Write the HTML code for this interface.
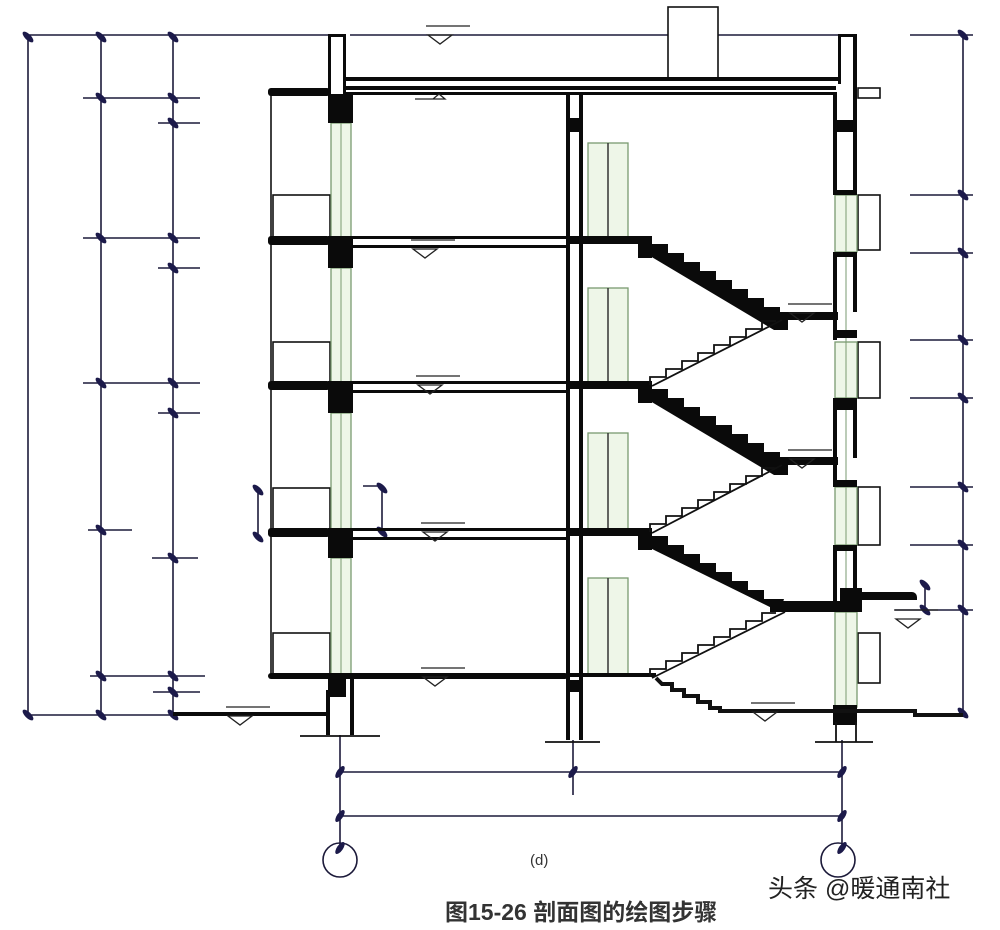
<!DOCTYPE html>
<html><head><meta charset="utf-8"><style>
html,body{margin:0;padding:0;background:#fff;}
svg{display:block}
</style></head><body>
<svg width="1000" height="930" viewBox="0 0 1000 930" xmlns="http://www.w3.org/2000/svg">
<defs>
<g id="tk"><ellipse cx="0" cy="0" rx="7" ry="3" fill="#1c1a4a" transform="rotate(45)"/></g>
<g id="tk2"><ellipse cx="0" cy="0" rx="7" ry="3" fill="#1c1a4a" transform="rotate(-55)"/></g>
<g id="lv"><path d="M-12,0 L12,0 L0,-9 Z" fill="none" stroke="#222" stroke-width="1.3" transform="scale(1,-1)"/><line x1="-14" y1="-9" x2="30" y2="-9" stroke="#222" stroke-width="1.3"/></g>
</defs>
<rect width="1000" height="930" fill="#fff"/>
<g stroke="#1c1a3a" stroke-width="1.6" fill="none">
<line x1="28" y1="35" x2="28" y2="715"/>
<line x1="101" y1="35" x2="101" y2="715"/>
<line x1="173" y1="35" x2="173" y2="715"/>
<line x1="25" y1="35" x2="330" y2="35"/>
<line x1="350" y1="35" x2="668" y2="35"/>
<line x1="718" y1="35" x2="838" y2="35"/>
<line x1="28" y1="715" x2="173" y2="715"/>
<line x1="83" y1="98" x2="200" y2="98"/>
<line x1="158" y1="123" x2="200" y2="123"/>
<line x1="83" y1="238" x2="200" y2="238"/>
<line x1="158" y1="268" x2="200" y2="268"/>
<line x1="83" y1="383" x2="200" y2="383"/>
<line x1="158" y1="413" x2="200" y2="413"/>
<line x1="88" y1="530" x2="132" y2="530"/>
<line x1="152" y1="558" x2="198" y2="558"/>
<line x1="90" y1="676" x2="205" y2="676"/>
<line x1="153" y1="692" x2="200" y2="692"/>
<line x1="963" y1="35" x2="963" y2="715"/>
<line x1="910" y1="35" x2="973" y2="35"/>
<line x1="910" y1="195" x2="973" y2="195"/>
<line x1="910" y1="253" x2="973" y2="253"/>
<line x1="910" y1="340" x2="973" y2="340"/>
<line x1="910" y1="398" x2="973" y2="398"/>
<line x1="910" y1="487" x2="973" y2="487"/>
<line x1="910" y1="545" x2="973" y2="545"/>
<line x1="895" y1="610" x2="973" y2="610"/>
<line x1="258" y1="490" x2="258" y2="537"/>
<line x1="382" y1="488" x2="382" y2="532"/>
<line x1="363" y1="486" x2="382" y2="486"/>
<line x1="925" y1="585" x2="925" y2="610"/>
<line x1="340" y1="735" x2="340" y2="845"/>
<line x1="573" y1="740" x2="573" y2="795"/>
<line x1="842" y1="740" x2="842" y2="845"/>
<line x1="340" y1="772" x2="842" y2="772"/>
<line x1="340" y1="816" x2="842" y2="816"/>
<circle cx="340" cy="860" r="17"/>
<circle cx="838" cy="860" r="17"/>
</g>
<g>
<use href="#tk" x="28" y="37"/><use href="#tk" x="101" y="37"/><use href="#tk" x="173" y="37"/>
<use href="#tk" x="101" y="98"/><use href="#tk" x="173" y="98"/><use href="#tk" x="173" y="123"/>
<use href="#tk" x="101" y="238"/><use href="#tk" x="173" y="238"/><use href="#tk" x="173" y="268"/>
<use href="#tk" x="101" y="383"/><use href="#tk" x="173" y="383"/><use href="#tk" x="173" y="413"/>
<use href="#tk" x="101" y="530"/><use href="#tk" x="173" y="558"/>
<use href="#tk" x="101" y="676"/><use href="#tk" x="173" y="676"/><use href="#tk" x="173" y="692"/>
<use href="#tk" x="28" y="715"/><use href="#tk" x="101" y="715"/><use href="#tk" x="173" y="715"/>
<use href="#tk" x="963" y="35"/><use href="#tk" x="963" y="195"/><use href="#tk" x="963" y="253"/>
<use href="#tk" x="963" y="340"/><use href="#tk" x="963" y="398"/><use href="#tk" x="963" y="487"/>
<use href="#tk" x="963" y="545"/><use href="#tk" x="963" y="610"/><use href="#tk" x="963" y="713"/>
<use href="#tk" x="258" y="490"/><use href="#tk" x="258" y="537"/><use href="#tk" x="382" y="488"/><use href="#tk" x="382" y="532"/>
<use href="#tk" x="925" y="585"/><use href="#tk" x="925" y="610"/>
<use href="#tk2" x="340" y="772"/><use href="#tk2" x="573" y="772"/><use href="#tk2" x="842" y="772"/>
<use href="#tk2" x="340" y="816"/><use href="#tk2" x="842" y="816"/>
<use href="#tk2" x="340" y="848"/><use href="#tk2" x="842" y="848"/>
</g>
<g stroke="#111" stroke-width="1.6" fill="none">
<line x1="271" y1="92" x2="271" y2="677"/>
<rect x="273" y="195" width="57" height="45"/>
<rect x="273" y="342" width="57" height="43"/>
<rect x="273" y="488" width="57" height="44"/>
<rect x="273" y="633" width="57" height="44"/>
<rect x="668" y="7" width="50" height="72"/>
<rect x="858" y="195" width="22" height="55"/>
<rect x="858" y="342" width="22" height="56"/>
<rect x="858" y="487" width="22" height="58"/>
<rect x="858" y="633" width="22" height="50"/>
<rect x="858" y="88" width="22" height="10"/>
</g>
<g fill="#eef6e8" stroke="#7a9a70" stroke-width="1.3">
<rect x="331" y="123" width="20" height="115"/>
<rect x="331" y="268" width="20" height="115"/>
<rect x="331" y="413" width="20" height="117"/>
<rect x="331" y="558" width="20" height="118"/>
<rect x="835" y="195" width="22" height="57"/>
<rect x="835" y="342" width="22" height="56"/>
<rect x="835" y="487" width="22" height="58"/>
<rect x="835" y="612" width="22" height="95"/>
<rect x="588" y="143" width="40" height="95"/>
<rect x="588" y="288" width="40" height="95"/>
<rect x="588" y="433" width="40" height="97"/>
<rect x="588" y="578" width="40" height="97"/>
</g>
<g stroke="#7a9a70" stroke-width="1"><line x1="341" y1="123" x2="341" y2="676"/><line x1="846" y1="195" x2="846" y2="707"/></g>
<g stroke="#333" stroke-width="1.5"><line x1="608" y1="143" x2="608" y2="238"/><line x1="608" y1="288" x2="608" y2="383"/><line x1="608" y1="433" x2="608" y2="530"/><line x1="608" y1="578" x2="608" y2="675"/></g>
<g fill="#0a0a0a" stroke="none">
<rect x="328" y="34" width="18" height="3"/><rect x="328" y="34" width="3" height="60"/><rect x="343" y="34" width="3" height="60"/>
<rect x="838" y="34" width="18" height="3"/><rect x="838" y="34" width="3" height="50"/><rect x="853" y="34" width="4" height="160"/>
<rect x="346" y="77" width="492" height="4"/><rect x="346" y="86" width="490" height="4"/>
<rect x="268" y="88" width="62" height="8" rx="3"/>
<rect x="346" y="92" width="488" height="3"/>
<rect x="328" y="94" width="25" height="29"/>
<rect x="833" y="92" width="4" height="100"/>
<rect x="833" y="120" width="24" height="12"/>
<rect x="833" y="190" width="24" height="5"/>
<rect x="833" y="252" width="4" height="88"/><rect x="853" y="252" width="4" height="60"/>
<rect x="833" y="252" width="24" height="5"/>
<rect x="833" y="330" width="24" height="8"/>
<rect x="833" y="398" width="24" height="12"/>
<rect x="833" y="398" width="4" height="89"/><rect x="853" y="398" width="4" height="60"/>
<rect x="833" y="480" width="24" height="7"/>
<rect x="833" y="545" width="24" height="6"/>
<rect x="833" y="545" width="4" height="67"/><rect x="853" y="545" width="4" height="45"/>
<rect x="833" y="705" width="24" height="20"/>
<rect x="566" y="95" width="4" height="645"/><rect x="579" y="95" width="4" height="645"/>
<rect x="566" y="118" width="17" height="14"/>
<rect x="566" y="680" width="17" height="12"/>
<rect x="268" y="236" width="62" height="9" rx="3"/><rect x="328" y="236" width="25" height="32"/>
<rect x="353" y="236" width="215" height="3"/><rect x="353" y="245" width="215" height="3"/>
<rect x="566" y="236" width="80" height="8"/>
<rect x="268" y="381" width="62" height="9" rx="3"/><rect x="328" y="381" width="25" height="32"/>
<rect x="353" y="381" width="215" height="3"/><rect x="353" y="390" width="215" height="3"/>
<rect x="566" y="381" width="80" height="8"/>
<rect x="268" y="528" width="62" height="9" rx="3"/><rect x="328" y="528" width="25" height="30"/>
<rect x="353" y="528" width="215" height="3"/><rect x="353" y="537" width="215" height="3"/>
<rect x="566" y="528" width="80" height="8"/>
<rect x="268" y="673" width="300" height="6" rx="3"/><rect x="328" y="673" width="18" height="24"/>
<rect x="566" y="673" width="90" height="4"/>
<rect x="326" y="690" width="4" height="45"/><rect x="350" y="677" width="4" height="58"/>
<rect x="173" y="712" width="155" height="4"/>
<path d="M638,236 h14 v8 h16 v9 h16 v9 h16 v9 h16 v9 h16 v9 h16 v9 h16 v9 h16 v9 h8 v14 h-14 L650,256 v-12 h-12 Z"/>
<rect x="638" y="236" width="14" height="22"/>
<rect x="774" y="312" width="64" height="8"/>
<path d="M638,381 h14 v8 h16 v9 h16 v9 h16 v9 h16 v9 h16 v9 h16 v9 h16 v9 h16 v9 h8 v14 h-14 L650,401 v-12 h-12 Z"/>
<rect x="638" y="381" width="14" height="22"/>
<rect x="774" y="457" width="64" height="8"/>
<path d="M638,528 h14 v8 h16 v9 h16 v9 h16 v9 h16 v9 h16 v9 h16 v9 h16 v9 h20 v0 L780,612 L650,548 v-12 h-12 Z"/>
<rect x="638" y="528" width="14" height="22"/>
<rect x="770" y="601" width="90" height="11"/>
<rect x="840" y="588" width="22" height="24"/>
<path d="M860,592 h52 a5,5 0 0 1 5,5 v3 h-57 Z"/>
</g>
<g stroke="#111" stroke-width="1.8" fill="none">
<path d="M650,385 v-8 h16 v-8 h16 v-8 h16 v-8 h16 v-8 h16 v-8 h16 v-8 h16 v-8 h14"/>
<line x1="652" y1="386" x2="782" y2="320"/>
<path d="M650,532 v-8 h16 v-8 h16 v-8 h16 v-8 h16 v-8 h16 v-8 h16 v-8 h16 v-8 h14"/>
<line x1="652" y1="533" x2="782" y2="465"/>
<path d="M650,677 v-8 h16 v-8 h16 v-8 h16 v-8 h16 v-8 h16 v-8 h16 v-8 h16 v-8 h14"/>
<line x1="652" y1="678" x2="785" y2="612"/>
<path d="M656,678 q4,4 6,6 h10 v6 h12 v6 h14 v6 h12 v6 h10 v3 h195 v4 h48" stroke-width="4"/>
<line x1="300" y1="736" x2="380" y2="736"/><line x1="545" y1="742" x2="600" y2="742"/><line x1="815" y1="742" x2="873" y2="742"/>
<line x1="836" y1="722" x2="836" y2="742"/><line x1="856" y1="722" x2="856" y2="742"/>
</g>
<g>
<use href="#lv" x="440" y="35"/>
<use href="#lv" x="425" y="249"/>
<use href="#lv" x="430" y="385"/>
<use href="#lv" x="435" y="532"/>
<use href="#lv" x="435" y="677"/>
<use href="#lv" x="240" y="716"/>
<use href="#lv" x="765" y="712"/>
<use href="#lv" x="802" y="313"/>
<use href="#lv" x="802" y="459"/>
<use href="#lv" x="908" y="619"/>
</g>
<path d="M415,99 h30 l-6,-5 l-6,5" fill="none" stroke="#222" stroke-width="1.3"/>
<text x="530" y="865" font-family="Liberation Sans, sans-serif" font-size="15" fill="#333">(d)</text>
<text x="445" y="920" font-family="Liberation Sans, Noto Sans CJK SC, sans-serif" font-size="23" font-weight="bold" fill="#333">图15-26 剖面图的绘图步骤</text>
<text x="768" y="897" font-family="Liberation Sans, Noto Sans CJK SC, sans-serif" font-size="25" fill="#222">头条 @暖通南社</text>
</svg>
</body></html>
